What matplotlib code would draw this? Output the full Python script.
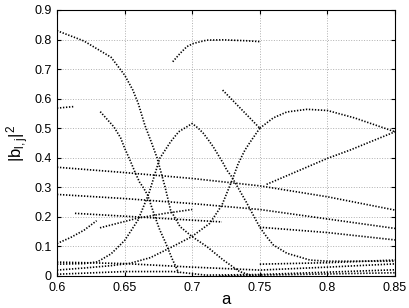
import matplotlib
matplotlib.use("Agg")
import matplotlib.pyplot as plt

plt.rcParams['font.family'] = ['Liberation Sans', 'DejaVu Sans']
plt.rcParams['mathtext.default'] = 'regular'

# curves: (a values, |b|^2 values)
a_A = [0.6, 0.62, 0.64, 0.65, 0.656, 0.66, 0.665, 0.67, 0.674, 0.68, 0.684,
       0.691, 0.70, 0.711, 0.723, 0.735, 0.745]
y_A = [0.83, 0.795, 0.74, 0.68, 0.63, 0.585, 0.51, 0.45, 0.40, 0.30, 0.223,
       0.167, 0.133, 0.099, 0.054, 0.015, 0.0]
a_B = [0.632, 0.642, 0.647, 0.65, 0.654, 0.658, 0.661, 0.664, 0.667, 0.6725,
       0.676, 0.68, 0.685, 0.69]
y_B = [0.556, 0.505, 0.468, 0.433, 0.392, 0.348, 0.318, 0.298, 0.274, 0.2,
       0.156, 0.116, 0.06, 0.01]
a_C = [0.6, 0.62, 0.63, 0.64, 0.65, 0.66, 0.668, 0.676, 0.684, 0.69, 0.70,
       0.7045, 0.7082, 0.712, 0.7156, 0.7193, 0.723, 0.7255, 0.7292, 0.74,
       0.75, 0.755, 0.76, 0.77, 0.787, 0.80, 0.85]
y_C = [0.04, 0.042, 0.048, 0.075, 0.12, 0.19, 0.28, 0.398, 0.454, 0.488,
       0.516, 0.50, 0.483, 0.46, 0.437, 0.409, 0.381, 0.359, 0.336, 0.25,
       0.165, 0.133, 0.105, 0.077, 0.054, 0.05, 0.05]
a_D = [0.7225, 0.7366, 0.75]
y_D = [0.629, 0.563, 0.50]
a_E = [0.75, 0.76, 0.77, 0.785, 0.80, 0.82, 0.85]
y_E = [0.50, 0.535, 0.555, 0.564, 0.56, 0.535, 0.488]
a_F = [0.6, 0.62, 0.64, 0.654, 0.669, 0.6836, 0.6996, 0.713, 0.722, 0.73,
       0.734, 0.739, 0.743, 0.75]
y_F = [0.02, 0.027, 0.035, 0.043, 0.062, 0.095, 0.133, 0.178, 0.24, 0.33,
       0.38, 0.426, 0.454, 0.50]
a_T = [0.6856, 0.691, 0.696, 0.701, 0.7107, 0.723, 0.74, 0.75]
y_T = [0.725, 0.753, 0.776, 0.787, 0.798, 0.799, 0.796, 0.793]
a_S = [0.6, 0.612]
y_S = [0.568, 0.573]
a_R = [0.755, 0.8, 0.8167, 0.85]
y_R = [0.31, 0.398, 0.426, 0.488]
a_L1 = [0.6, 0.65, 0.7, 0.75, 0.8, 0.85]
y_L1 = [0.368, 0.35, 0.33, 0.305, 0.268, 0.223]
a_L2 = [0.6, 0.65, 0.7, 0.75, 0.8, 0.85]
y_L2 = [0.276, 0.262, 0.245, 0.225, 0.193, 0.161]
a_L3 = [0.6133, 0.659, 0.722]
y_L3 = [0.212, 0.2, 0.183]
a_L4 = [0.6, 0.61, 0.62, 0.6293]
y_L4 = [0.11, 0.13, 0.155, 0.187]
a_L5 = [0.6318, 0.659, 0.68, 0.70]
y_L5 = [0.163, 0.195, 0.212, 0.225]
a_L6 = [0.75, 0.8, 0.85]
y_L6 = [0.165, 0.147, 0.122]
a_B1 = [0.6, 0.65, 0.7, 0.75, 0.8, 0.85]
y_B1 = [0.047, 0.042, 0.03, 0.02, 0.03, 0.041]
a_B3 = [0.6, 0.65, 0.686, 0.71, 0.75, 0.8, 0.85]
y_B3 = [0.006, 0.015, 0.015, 0.003, 0.005, 0.013, 0.021]
a_B4 = [0.75, 0.8, 0.85]
y_B4 = [0.04, 0.045, 0.054]
a_B5 = [0.72, 0.75, 0.8, 0.85]
y_B5 = [0.0, 0.003, 0.007, 0.011]

curves = [(a_A, y_A), (a_B, y_B), (a_C, y_C), (a_D, y_D), (a_E, y_E),
          (a_F, y_F), (a_T, y_T), (a_S, y_S), (a_R, y_R), (a_L1, y_L1),
          (a_L2, y_L2), (a_L3, y_L3), (a_L4, y_L4), (a_L5, y_L5),
          (a_L6, y_L6), (a_B1, y_B1), (a_B3, y_B3), (a_B4, y_B4),
          (a_B5, y_B5)]

xticks = [0.6, 0.65, 0.7, 0.75, 0.8, 0.85]
xticklabels = ['0.6', '0.65', '0.7', '0.75', '0.8', '0.85']
yticks = [0, 0.1, 0.2, 0.3, 0.4, 0.5, 0.6, 0.7, 0.8, 0.9]
yticklabels = ['0', '0.1', '0.2', '0.3', '0.4', '0.5', '0.6', '0.7', '0.8', '0.9']

fig = plt.figure(figsize=(4.09, 3.08), dpi=100)
ax = fig.add_axes([57 / 409, 32 / 308, 338 / 409, 266 / 308])

for xs, ys in curves:
    ax.plot(xs, ys, color='black', lw=1.2, linestyle=(0, (0.8, 1.0)),
            dash_capstyle='butt')

ax.set_xlim(0.6, 0.85)
ax.set_ylim(0, 0.9)
ax.set_xticks(xticks)
ax.set_xticklabels(xticklabels)
ax.set_yticks(yticks)
ax.set_yticklabels(yticklabels)
ax.tick_params(direction='in', length=3, labelsize=9, top=True, right=True)
ax.tick_params(axis='x', pad=4.5)
ax.tick_params(axis='y', pad=4)
ax.grid(True, linestyle=':', color='#b0b0b0', lw=0.7)
for sp in ax.spines.values():
    sp.set_color('black')
    sp.set_linewidth(0.8)
ax.set_xlabel('a', fontsize=12, labelpad=-1.5)
ax.set_ylabel(r'$|b_{l,j}|^2$', fontsize=12, labelpad=2)

fig.savefig('out.png', dpi=100)
